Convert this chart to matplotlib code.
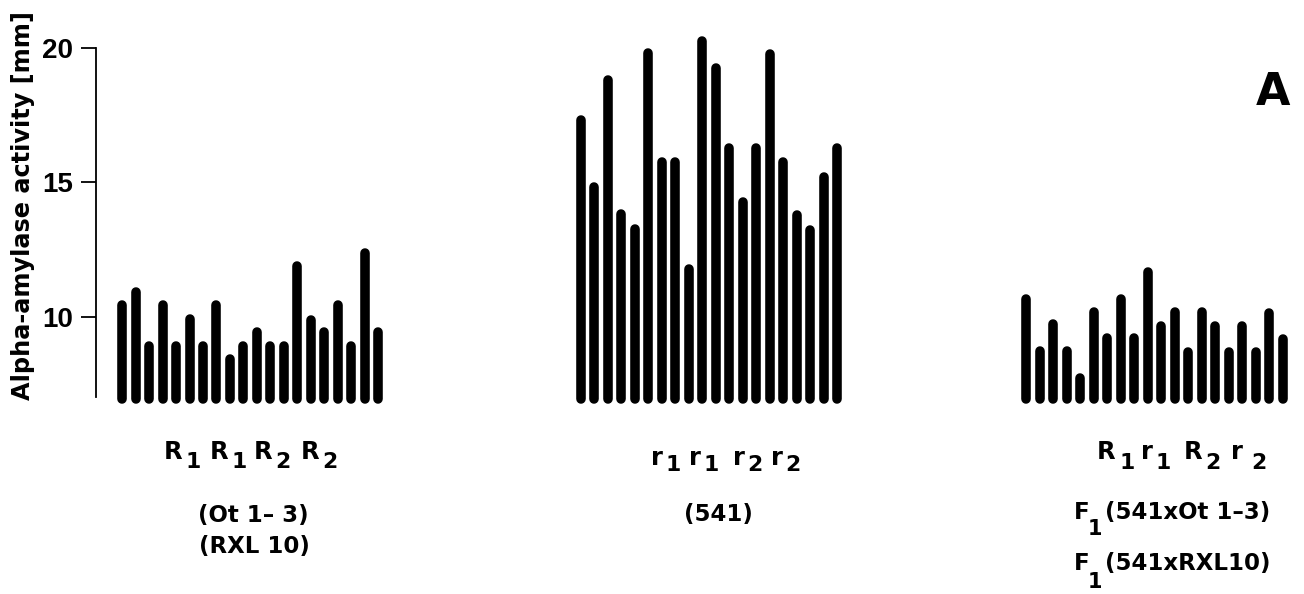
import matplotlib
matplotlib.use("Agg")
import matplotlib.pyplot as plt
import matplotlib.transforms as mtransforms
import numpy as np

plt.rcParams['font.family'] = ['DejaVu Sans']
plt.rcParams['font.weight'] = 'bold'

# Alpha-amylase activity per individual plant [mm]
parent_R = [10.6, 11.1, 9.1, 10.6, 9.1, 10.1, 9.1, 10.6, 8.6, 9.1,
            9.6, 9.1, 9.1, 12.05, 10.05, 9.6, 10.6, 9.1, 12.55, 9.6]
parent_r = [17.5, 15.0, 19.0, 14.0, 13.45, 20.0, 15.95, 15.95, 11.95, 20.45,
            19.45, 16.45, 14.45, 16.45, 19.95, 15.95, 13.95, 13.4, 15.4, 16.45]
hybrid_F1 = [10.85, 8.9, 9.9, 8.9, 7.9, 10.35, 9.4, 10.85, 9.4, 11.85,
             9.85, 10.35, 8.85, 10.35, 9.85, 8.85, 9.85, 8.85, 10.3, 9.35]

group_starts = [0, 34, 67]
yticks = [10, 15, 20]
ylabel = 'Alpha-amylase activity [mm]'

# genotype symbols: (letter, subscript) pairs for each group
genotypes = [[('R', '1'), ('R', '1'), ('R', '2'), ('R', '2')],
             [('r', '1'), ('r', '1'), ('r', '2'), ('r', '2')],
             [('R', '1'), ('r', '1'), ('R', '2'), ('r', '2')]]
parent_lines = [['(Ot 1\u2013 3)', '(RXL 10)'], ['(541)']]
hybrid_lines = ['(541xOt 1\u20133)', '(541xRXL10)']
panel_label = 'A'

W, H = 1304, 594
fig = plt.figure(figsize=(W / 100, H / 100), dpi=100)
fig.patch.set_facecolor('white')


def fx(px):
    return px / W


def fy(py):
    return 1 - py / H


ax = fig.add_axes([fx(96), fy(420), fx(1300) - fx(96), fy(10) - fy(420)])
ax.set_xlim(-1.926, 87.26)
ax.set_ylim(6.153, 21.423)

lw_pts = 6.9
base = 7.1
shift = mtransforms.offset_copy(ax.transData, fig=fig, x=0, y=-lw_pts / 2, units='points')
for start, vals in zip(group_starts, [parent_R, parent_r, hybrid_F1]):
    xs = start + np.arange(len(vals))
    ax.vlines(xs, base, vals, colors='black', linewidth=lw_pts,
              capstyle='round', transform=shift)

for s in ['top', 'right', 'bottom']:
    ax.spines[s].set_visible(False)
ax.spines['left'].set_bounds(7.0, 20)
ax.spines['left'].set_linewidth(1.3)
ax.set_yticks(yticks)
ax.set_yticklabels([str(t) for t in yticks], fontsize=20, fontweight='bold',
                   family='Liberation Sans')
ax.tick_params(axis='y', length=10.8, width=1.3, pad=6)
ax.set_xticks([])

fig.text(fx(23), fy(205), ylabel, rotation=90, ha='center', va='center',
         fontsize=17.3, fontweight='bold')

fig.text(fx(1273), fy(105), panel_label, ha='center', va='baseline',
         fontsize=32, fontweight='bold')

# genotype symbols, letter by letter with large subscripts
gfs = 17.5
letter_x = [[164, 210, 254, 301], [651, 689, 733, 771], [1097, 1141, 1184, 1231]]
sub_x = [[185, 231, 275, 322], [665, 703, 747, 785], [1119, 1156, 1205, 1251]]
base_y = [(459, 468), (465, 471), (459, 469)]
for pairs, lx, sx, (yb, ys) in zip(genotypes, letter_x, sub_x, base_y):
    for (let, sub), x0, x1 in zip(pairs, lx, sx):
        fig.text(fx(x0), fy(yb), let, ha='left', va='baseline', fontsize=gfs, fontweight='bold')
        fig.text(fx(x1), fy(ys), sub, ha='left', va='baseline', fontsize=gfs * 0.9,
                 fontweight='bold')

# parental line names
parent_pos = [[(253, 522), (254, 553)], [(718, 521)]]
for poss, labs in zip(parent_pos, parent_lines):
    for (px, py), lab in zip(poss, labs):
        fig.text(fx(px), fy(py), lab, ha='center', va='baseline', fontsize=16.5, fontweight='bold')

# F1 hybrid names
for (yb, ys), lab in zip([(519, 535), (570, 588)], hybrid_lines):
    fig.text(fx(1074), fy(yb), 'F', ha='left', va='baseline', fontsize=16.5, fontweight='bold')
    fig.text(fx(1088), fy(ys), '1', ha='left', va='baseline', fontsize=15, fontweight='bold')
    fig.text(fx(1105), fy(yb), lab, ha='left', va='baseline', fontsize=16.5, fontweight='bold')

fig.savefig('out.png', dpi=100, facecolor='white')
